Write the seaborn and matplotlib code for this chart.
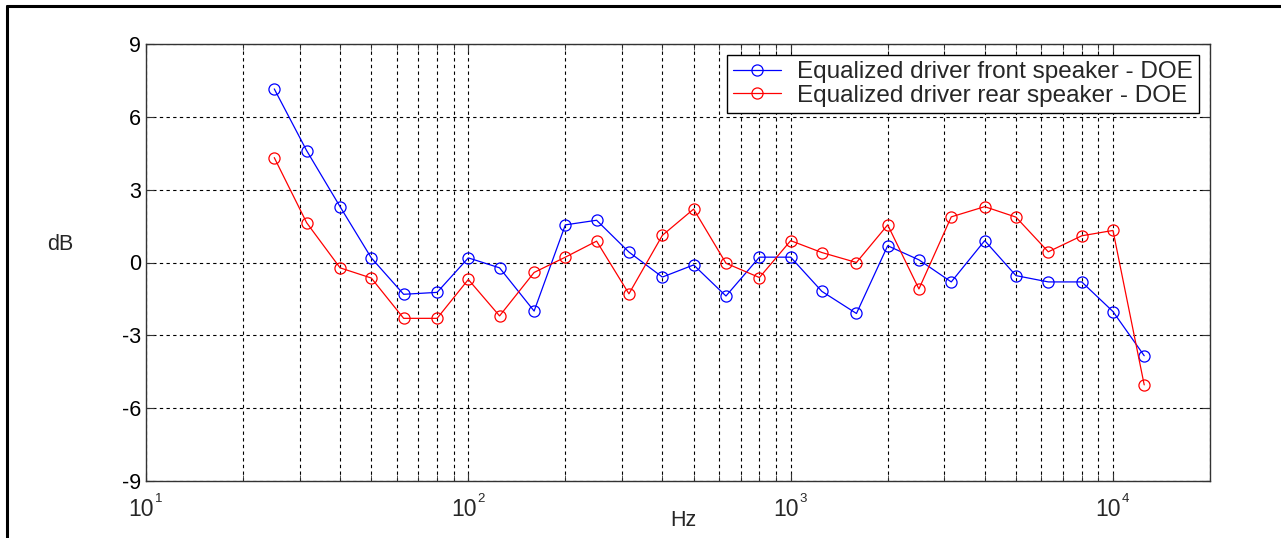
import numpy as np
import pandas as pd
import matplotlib
matplotlib.use("Agg")
import matplotlib.pyplot as plt
import seaborn as sns
from matplotlib.lines import Line2D
from matplotlib.ticker import LogLocator, NullFormatter

freqs = [25, 31.5, 40, 50, 63, 80, 100, 125, 160, 200, 250, 315, 400, 500, 630,
         800, 1000, 1250, 1600, 2000, 2500, 3150, 4000, 5000, 6300, 8000, 10000, 12500]
front = [7.15, 4.61, 2.30, 0.19, -1.31, -1.23, 0.19, -0.22, -2.0, 1.55, 1.74, 0.43,
         -0.6, -0.1, -1.38, 0.22, 0.22, -1.19, -2.1, 0.69, 0.11, -0.8, 0.9, -0.54,
         -0.8, -0.8, -2.02, -3.84]
rear = [4.32, 1.64, -0.22, -0.64, -2.3, -2.3, -0.7, -2.2, -0.41, 0.22, 0.88, -1.29,
        1.12, 2.2, -0.03, -0.62, 0.9, 0.41, 0.0, 1.55, -1.09, 1.88, 2.3, 1.87,
        0.44, 1.1, 1.32, -5.04]
labels = ["Equalized driver front speaker - DOE", "Equalized driver rear speaker - DOE"]
yticks = [-9, -6, -3, 0, 3, 6, 9]
xticks = [10, 100, 1000, 10000]
xexp = [1, 2, 3, 4]

sns.set_style("white")
plt.rcParams['font.family'] = ['Liberation Sans', 'DejaVu Sans']

df = pd.DataFrame({
    "Hz": freqs * 2,
    "dB": front + rear,
    "series": [labels[0]] * len(freqs) + [labels[1]] * len(freqs),
})

fig = plt.figure(figsize=(12.81, 5.38), dpi=100)
ax = fig.add_axes([146 / 1281, 1 - 481 / 538, (1210 - 146) / 1281, (481 - 44) / 538])

colors = {labels[0]: "#0000ff", labels[1]: "#ff0000"}
for lab in labels:
    sub = df[df.series == lab]
    sns.lineplot(data=sub, x="Hz", y="dB", ax=ax, color=colors[lab], lw=0.9,
                 marker="o", markersize=8, markerfacecolor="none",
                 markeredgecolor=colors[lab], markeredgewidth=0.9, label=lab)

ax.set_xscale("log")
ax.set_xlim(10, 20000)
ax.set_ylim(-9, 9)
ax.set_yticks(yticks)
ax.set_yticklabels([str(v) for v in yticks])
ax.set_xticks(xticks)
ax.set_xticklabels([])
ax.xaxis.set_minor_locator(LogLocator(base=10, subs=np.arange(2, 10), numticks=20))
ax.xaxis.set_minor_formatter(NullFormatter())

# x tick labels MATLAB style: "10" with small raised exponent
for xv, e in zip(xticks, xexp):
    ax.annotate("10", xy=(xv, 0), xycoords=("data", "axes fraction"),
                xytext=(5.8, -12.5), textcoords="offset points", ha="right", va="top",
                fontsize=16.5)
    ax.annotate(str(e), xy=(xv, 0), xycoords=("data", "axes fraction"),
                xytext=(6.5, -8.4), textcoords="offset points", ha="left", va="top",
                fontsize=9.5)

ax.grid(True, which="both", axis="x", color="black", linestyle=(0, (3, 3)), lw=0.8)
ax.grid(True, which="major", axis="y", color="black", linestyle=(0, (3, 3)), lw=0.8)

for s in ax.spines.values():
    s.set_color("#333333")
    s.set_linewidth(1.0)
ax.tick_params(which="both", direction="in", top=True, right=True, bottom=True, left=True,
               colors="#333333", labelcolor="black", labelsize=15.5)
ax.tick_params(which="major", length=6)
ax.tick_params(which="minor", length=4)
ax.tick_params(axis="y", pad=3.6)

ax.set_xlabel("")
ax.set_ylabel("")
fig.text(683 / 1281, 1 - 520 / 538, "Hz", ha="center", va="center", fontsize=15.5)
fig.text(60 / 1281, 1 - 244 / 538, "dB", ha="center", va="center", fontsize=15.5)

leg = ax.legend(loc="upper right", fontsize=17.5, frameon=True, fancybox=False,
                edgecolor="black", framealpha=1, borderaxespad=0.45,
                handlelength=2.0, handletextpad=0.65, borderpad=0.25, labelspacing=0.08)
leg.get_frame().set_linewidth(1.0)

fig.add_artist(Line2D([7 / 1281, 1.0], [1 - 6 / 538, 1 - 6 / 538], color="black", lw=2.2,
                      transform=fig.transFigure))
fig.add_artist(Line2D([7 / 1281, 7 / 1281], [0, 1 - 6 / 538], color="black", lw=2.2,
                      transform=fig.transFigure))

fig.savefig("out.png", dpi=100)
